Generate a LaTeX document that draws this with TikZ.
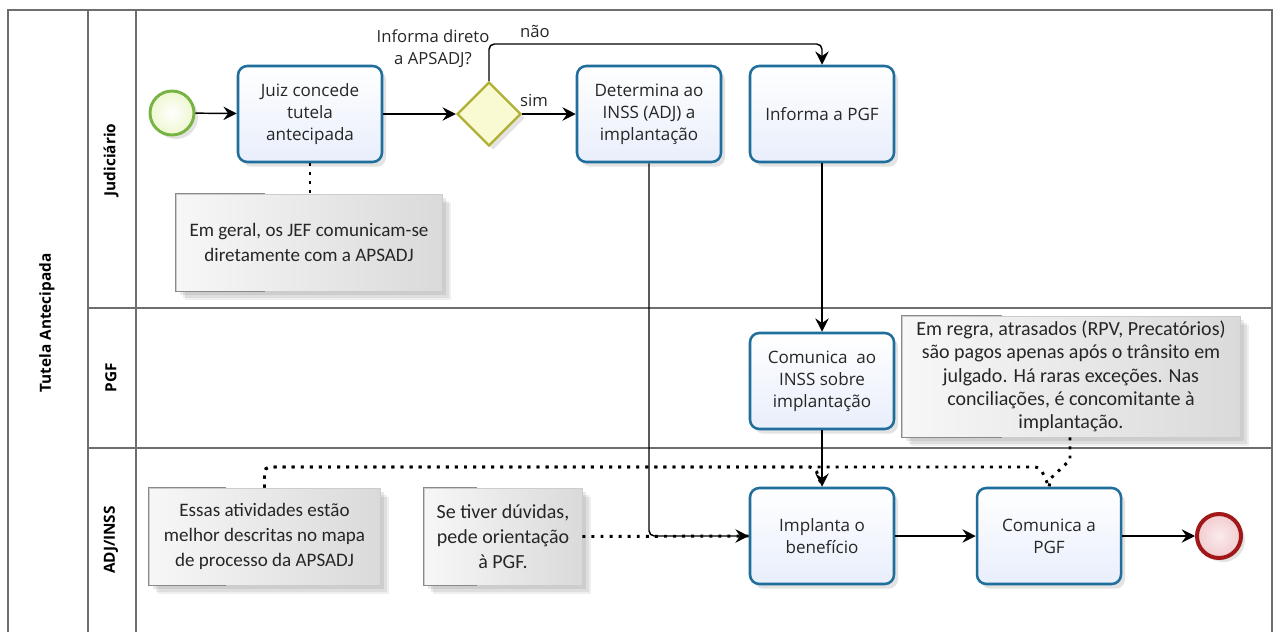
\documentclass[tikz,border=0pt]{standalone}
\usepackage{fontspec}
\setmainfont{Open Sans}
\newfontfamily\notefont{Carlito}
\usetikzlibrary{arrows.meta,shapes.geometric,shadows,calc}
\definecolor{taskborder}{HTML}{1F6E9C}
\definecolor{taskfill}{HTML}{E8EEFB}
\definecolor{lanegray}{HTML}{6E6E6E}
\definecolor{gwborder}{HTML}{B0B034}
\definecolor{gwfill}{HTML}{FAFAD2}
\definecolor{startborder}{HTML}{78B443}
\definecolor{startfill}{HTML}{EEF7D0}
\definecolor{endborder}{HTML}{A01818}
\definecolor{endfill}{HTML}{F2CCCF}
\definecolor{txt}{HTML}{262626}
\definecolor{notelight}{HTML}{F7F7F7}
\definecolor{notedark}{HTML}{DADADA}
\definecolor{bracketgray}{HTML}{8A8A8A}
\begin{document}
\begin{tikzpicture}[x=0.75pt,y=-0.75pt,
  lane/.style={draw=lanegray,line width=1.4pt},
  lanelabel/.style={font=\bfseries\fontsize{11.5}{13}\selectfont,text=black,rotate=90},
  task/.style={draw=taskborder,line width=1.9pt,rounded corners=7pt,
    top color=white,bottom color=taskfill,
    minimum width=108pt,minimum height=72pt,align=center,inner sep=2pt,
    font=\fontsize{12.8}{16.5}\selectfont,text=txt,
    drop shadow={opacity=0.22,shadow xshift=3pt,shadow yshift=-3.5pt}},
  note/.style={draw=gray!40,line width=0.6pt,left color=notelight,right color=notedark,
    align=center,inner sep=0pt,text=txt,
    font=\notefont\fontsize{14.3}{18.5}\selectfont,
    drop shadow={opacity=0.10,fill=black!60,shadow xshift=7pt,shadow yshift=-7pt},
    drop shadow={opacity=0.12,fill=black!60,shadow xshift=5pt,shadow yshift=-5pt},
    drop shadow={opacity=0.14,fill=black!60,shadow xshift=3pt,shadow yshift=-3pt}},
  bracket/.style={draw=bracketgray,line width=1pt},
  flow/.style={draw=black,line width=1.1pt,-{Stealth[length=10pt,width=10pt,inset=3.5pt]}},
  assoc/.style={draw=black,line width=2.2pt,dash pattern=on 2.2pt off 4.6pt},
  lbl/.style={font=\fontsize{12.5}{16.5}\selectfont,text=txt,align=center}
]
\useasboundingbox (0,0) rectangle (1276,632);
\fill[white] (0,0) rectangle (1276,632);

% pool and lanes
\draw[lane] (8,632) -- (8,10) -- (1272,10) -- (1272,632);
\draw[lane] (88,10) -- (88,632);
\draw[lane] (136,10) -- (136,632);
\draw[lane] (88,308) -- (1272,308);
\draw[lane] (88,448) -- (1272,448);
\node[lanelabel] (pool) at (47,323) {Tutela Antecipada};
\node[lanelabel] (ljud) at (111,160) {Judiciário};
\node[lanelabel] (lpgf) at (111,378) {PGF};
\node[lanelabel] (ladj) at (111,540) {ADJ/INSS};

% notes
\node[note,minimum width=199.5pt,minimum height=72.75pt] (ngeral) at (309,242.5)
  {Em geral, os JEF comunicam-se\\diretamente com a APSADJ};
\node[note,minimum width=253.5pt,minimum height=90.75pt,font=\notefont\fontsize{15}{17.5}\selectfont] (nregra) at (1071,376.5)
  {Em regra, atrasados (RPV, Precatórios)\\são pagos apenas após o trânsito em\\julgado. Há raras exceções. Nas\\conciliações, é concomitante à\\implantação.};
\node[note,minimum width=173.25pt,minimum height=72.75pt] (nessas) at (264.5,536.5)
  {Essas atividades estão\\melhor descritas no mapa\\de processo da APSADJ};
\node[note,minimum width=118.5pt,minimum height=72.75pt,font=\notefont\fontsize{15}{18.5}\selectfont] (nduv) at (503,536.5)
  {Se tiver dúvidas,\\pede orientação\\à PGF.};
\foreach \n/\w in {ngeral/89,nregra/100,nessas/77,nduv/53}{
  \draw[bracket] ($(\n.north west)+(\w,0)$) -- (\n.north west) -- (\n.south west) -- ($(\n.south west)+(\w,0)$);
}

% events and gateway
\node[circle,draw=startborder,line width=2.2pt,inner color=white,outer color=startfill,
  minimum size=33pt,inner sep=0pt,drop shadow={opacity=0.22,shadow xshift=3pt,shadow yshift=-3pt}] (start) at (172,113) {};
\node[circle,draw=endborder,line width=3pt,inner color=white!60!endfill,outer color=endfill,
  minimum size=33pt,inner sep=0pt,drop shadow={opacity=0.22,shadow xshift=3pt,shadow yshift=-3pt}] (end) at (1219,536) {};
\node[diamond,draw=gwborder,line width=1.8pt,fill=gwfill,minimum width=48pt,minimum height=48pt,
  inner sep=0pt,drop shadow={opacity=0.22,shadow xshift=3pt,shadow yshift=-3pt}] (gw) at (489,114) {};

% tasks
\node[task] (juiz) at (310,114) {Juiz concede\\tutela\\antecipada};
\node[task] (det) at (649,114) {Determina ao\\INSS (ADJ) a\\implantação};
\node[task] (inf) at (822,114) {Informa a PGF};
\node[task] (com) at (822,381) {Comunica\ \ ao\\INSS sobre\\implantação};
\node[task] (impl) at (822,536) {Implanta o\\benefício};
\node[task] (cpgf) at (1049,536) {Comunica a\\PGF};

% labels
\node[lbl] (qgw) at (433,49) {Informa direto\\a APSADJ?};
\node[lbl] (lnao) at (535,31) {não};
\node[lbl] (lsim) at (534,100) {sim};

% associations
\draw[assoc] (juiz.south) -- (ngeral.north -| juiz.south);
\draw[assoc] (nduv.east) -- (impl.west);
\draw[assoc,rounded corners=4pt] (nessas.north) -- (264.5,467) -- (815,467) -- (impl.north);
\draw[assoc,rounded corners=4pt] (nessas.north) -- (264.5,467) -- (1040,467) -- (cpgf.north);
\draw[assoc] (nregra.south -| 1070,0) -- (1070,460) -- (1051,478) -- (cpgf.north);

% sequence flows
\draw[flow] (start) -- (juiz);
\draw[flow] (juiz) -- (gw);
\draw[flow] (gw) -- (det);
\draw[flow,rounded corners=4pt] (gw.north) -- (489,44) -- (822,44) -- (inf.north);
\draw[flow,rounded corners=4pt] (det.south) -- (649,536) -- (impl.west);
\draw[flow] (inf) -- (com);
\draw[flow] (com) -- (impl);
\draw[flow] (impl) -- (cpgf);
\draw[flow] (cpgf) -- (end);
\end{tikzpicture}
\end{document}
